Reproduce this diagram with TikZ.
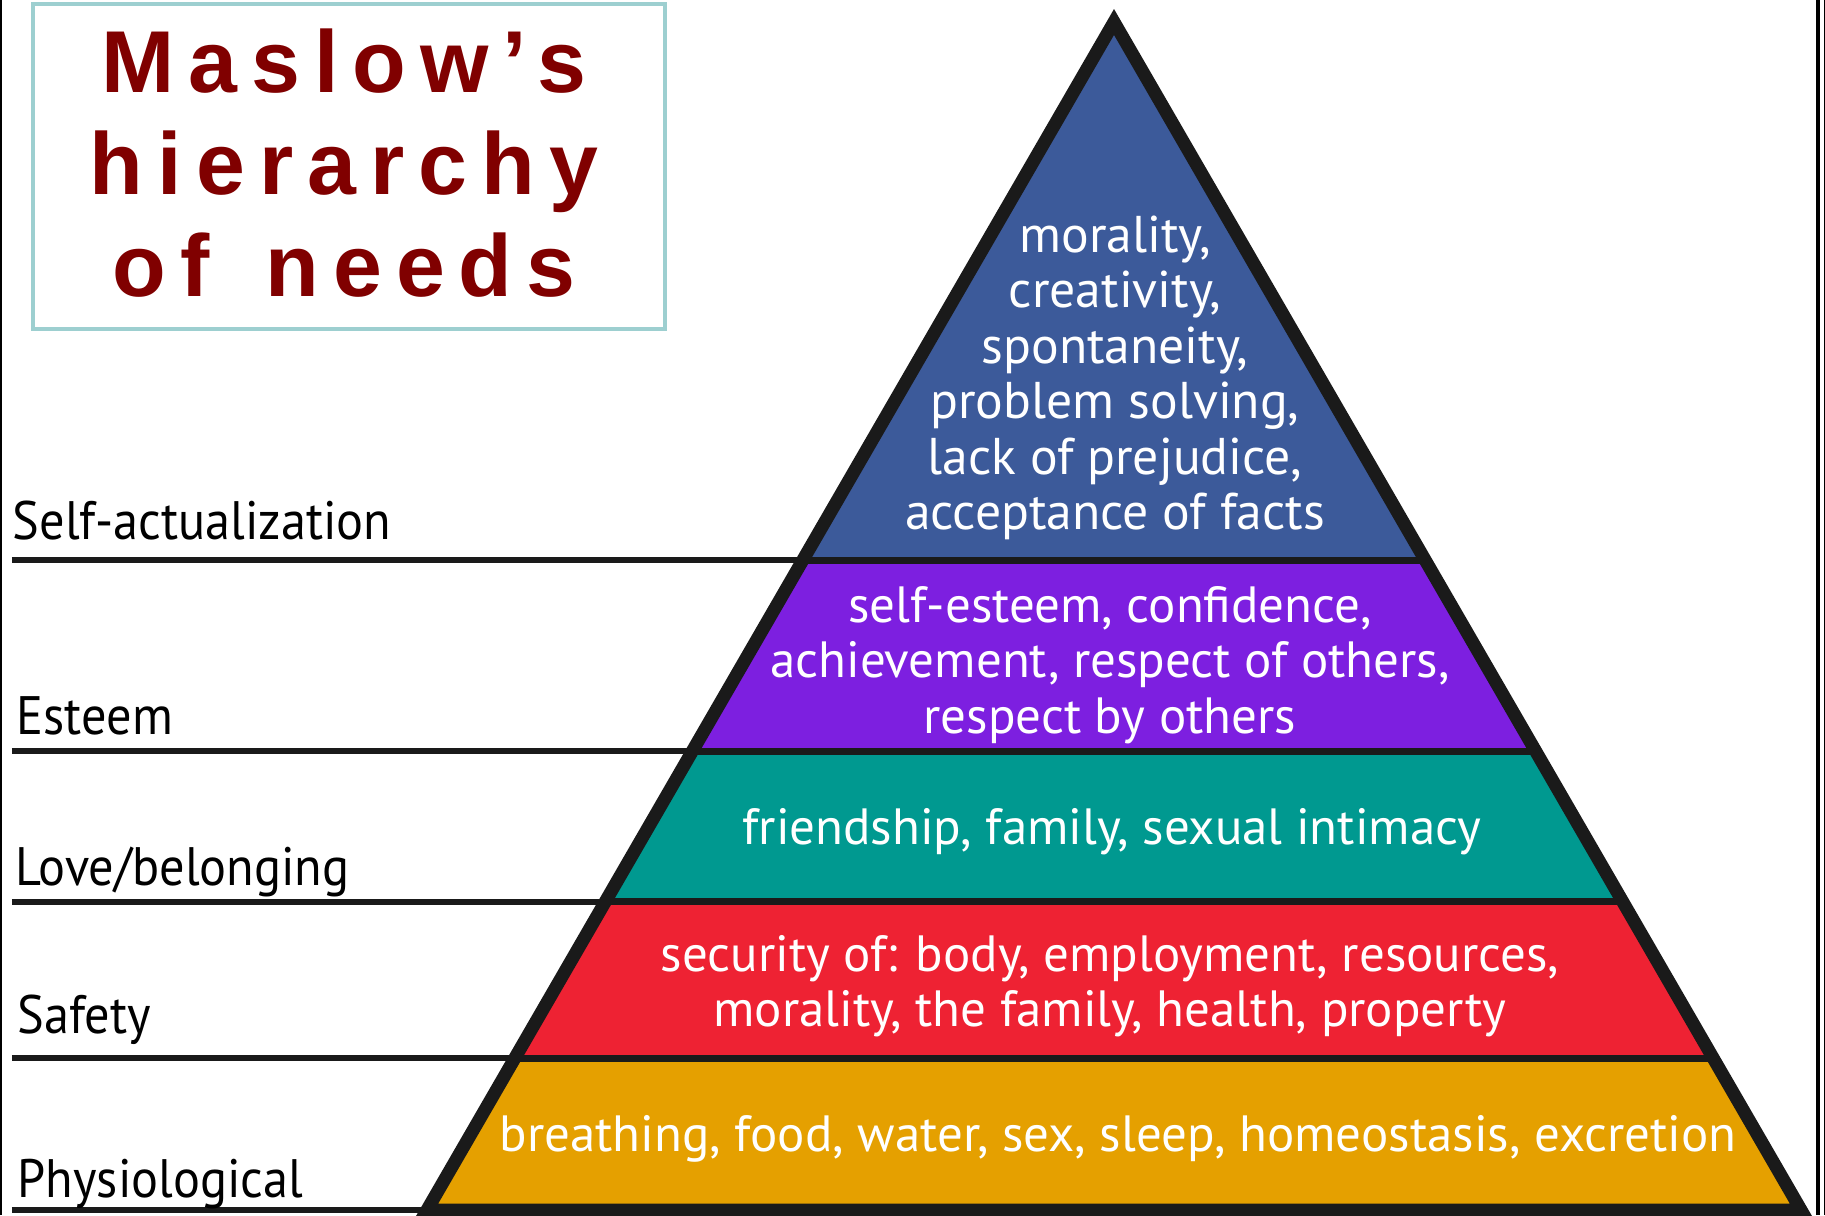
\documentclass[tikz,border=0pt]{standalone}
\usepackage{fontspec}
\usepackage{xcolor}
\usetikzlibrary{calc}
\newfontfamily\titlefont[LetterSpace=16]{Liberation Sans}
\newfontfamily\dinfont{PT Sans}
\newfontfamily\levelfont[FakeStretch=0.93]{PT Sans}
\definecolor{boxcol}{HTML}{9DCFD0}
\definecolor{titlecol}{HTML}{800000}
\definecolor{selfcol}{HTML}{3C5A9A}
\definecolor{esteemcol}{HTML}{7D1FE0}
\definecolor{lovecol}{HTML}{009990}
\definecolor{safecol}{HTML}{EE2233}
\definecolor{physcol}{HTML}{E5A000}
\definecolor{inkcol}{HTML}{1A1A1A}

\tikzset{
    need/.style={text=white, align=center, inner sep=0pt, font=\dinfont\fontsize{14.5}{15.8}\selectfont},
    level/.style={anchor=base west, text=black, inner sep=0pt, font=\levelfont\fontsize{15.4}{18}\selectfont},
    rule/.style={line width=0.6mm, draw=inkcol}
}

\begin{document}
\begin{tikzpicture}

    \useasboundingbox (0,0) rectangle (18.25,12.15);

    % page edges
    \draw[line width=0.2mm] (0.01,0) -- (0.01,12.15);
    \draw[line width=0.4mm] (18.18,0) -- (18.18,12.15);
    \draw[line width=0.1mm] (18.24,0) -- (18.24,12.15);

    \coordinate (apex) at (11.14,11.93);
    \coordinate (bl) at (4.27,0.05);
    \coordinate (br) at (18.01,0.05);
    \coordinate (edge) at (0.12,0);

    % bands
    \foreach \t/\col [remember=\t as \s (initially 0)] in {0.4530/selfcol, 0.6138/esteemcol, 0.7407/lovecol, 0.8721/safecol, 1/physcol}
    \fill[\col] ($(apex)!\s!(bl)$) -- ($(apex)!\t!(bl)$) -- ($(apex)!\t!(br)$) -- ($(apex)!\s!(br)$) -- cycle;

    \foreach \t [count=\i] in {0.4530, 0.6138, 0.7407, 0.8721, 1}
    {
        \coordinate (e\i) at ($(apex)!\t!(bl)$);
        \coordinate (f\i) at ($(apex)!\t!(br)$);
        \coordinate (m\i) at (e\i -| edge);
        \draw[rule] (m\i) -- (e\i);
        \draw[line width=0.7mm, draw=inkcol] (e\i) -- (f\i);
    }

    \draw[line width=1.3mm, draw=inkcol, line join=miter] (apex) -- (bl) -- (br) -- cycle;

    \node[need, font=\dinfont\fontsize{14.7}{15.8}\selectfont] (selfnode) at (11.15,8.37) {morality,\\creativity,\\spontaneity,\\problem solving,\\lack of prejudice,\\acceptance of facts};
    \node[need, font=\dinfont\fontsize{14.5}{15.8}\selectfont] (esteemnode) at (11.10,5.50) {self-esteem, confidence,\\achievement, respect of others,\\respect by others};
    \node[need] (lovenode) at (11.12,3.83) {friendship, family, sexual intimacy};
    \node[need, font=\dinfont\fontsize{14.5}{15.6}\selectfont] (safenode) at (11.10,2.29) {security of: body, employment, resources,\\morality, the family, health, property};
    \node[need] (physnode) at (11.18,0.76) {breathing, food, water, sex, sleep, homeostasis, excretion};

    \node[level] (selflab) at (0.12,6.75) {Self-actualization};
    \node[level] (esteemlab) at (0.16,4.80) {Esteem};
    \node[level] (lovelab) at (0.15,3.30) {Love/belonging};
    \node[level] (safelab) at (0.17,1.82) {Safety};
    \node[level] (physlab) at (0.17,0.18) {Physiological};

    \node[draw=boxcol, line width=0.45mm, minimum width=6.32cm, minimum height=3.25cm] (title) at (3.49,10.485) {};
    \node[align=center, text=titlecol, font=\titlefont\bfseries\fontsize{25}{29}\selectfont] (titletext) at ([xshift=-0.05cm, yshift=0.03cm]title.center) {Maslow’s\\hierarchy\\of\hspace{5pt} needs};

\end{tikzpicture}
\end{document}
